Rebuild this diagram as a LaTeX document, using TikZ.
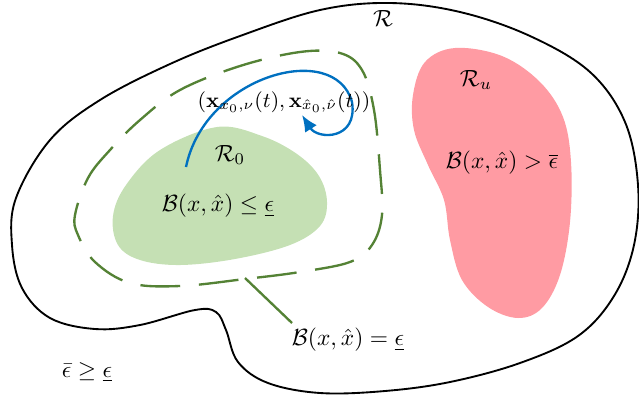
\documentclass[tikz,border=0pt]{standalone}
\usepackage{amsmath}
\usepackage{amssymb}
\usepackage{tikz}
\usetikzlibrary{arrows.meta,positioning,calc}

\definecolor{safegreen}{RGB}{197,224,180}
\definecolor{levelgreen}{RGB}{84,130,53}
\definecolor{unsafered}{RGB}{255,155,163}
\definecolor{trajblue}{RGB}{0,112,192}

\begin{document}
\begin{tikzpicture}[
  x=0.015cm,y=-0.015cm,
  region/.style={draw=black,thick},
  initset/.style={fill=safegreen,draw=none},
  unsafeset/.style={fill=unsafered,draw=none},
  levelset/.style={draw=levelgreen,line width=1pt,dash pattern=on 17pt off 8pt},
  traj/.style={draw=trajblue,line width=1pt,-{Latex[length=7pt,width=6pt]}},
  lbl/.style={inner sep=1pt},
]
\useasboundingbox (0,0) rectangle (639,401);

% state space
\draw[region] plot[smooth cycle,tension=0.6] coordinates {
  (320,393) (268,383) (238,362) (226,330) (216,312) (195,310) (140,325)
  (95,329) (50,318) (22,288) (12,245) (16,198) (50,140) (100,100)
  (170,64) (240,36) (320,10) (390,3) (460,12) (530,36) (590,72)
  (625,122) (638,185) (634,245) (614,296) (578,336) (520,363)
  (450,382) (385,391)};

% unsafe set
\fill[unsafeset] plot[smooth cycle,tension=0.6] coordinates {
  (455,48) (502,56) (540,82) (563,117) (571,162) (570,222) (560,275)
  (542,308) (518,318) (488,307) (462,280) (450,240) (444,200)
  (428,165) (414,130) (413,95) (425,62)};

% initial set
\fill[initset] plot[smooth cycle,tension=0.6] coordinates {
  (217,127) (262,136) (297,154) (319,176) (327,202) (320,226) (290,245)
  (235,259) (180,265) (140,260) (118,245) (113,216) (126,185) (160,150)};

% level set of the barrier
\draw[levelset] plot[smooth cycle,tension=0.6] coordinates {
  (75,215) (88,178) (110,150) (140,120) (180,90) (240,66) (300,52)
  (340,53) (362,70) (374,110) (380,170) (382,215) (372,245) (350,262)
  (300,272) (245,279) (180,286) (130,283) (95,262) (78,235)};

% trajectory
\draw[traj] (186,167) .. controls (205,75) and (335,40) .. (352,102)
  .. controls (358,140) and (318,140) .. (302,115);

% labels
\node[lbl] (R) at (383,18) {$\mathcal{R}$};
\node[lbl] (Ru) at (476,80) {$\mathcal{R}_u$};
\node[lbl] (unsafe) at (502,163) {$\mathcal{B}(x,\hat{x}) > \overline{\epsilon}$};
\node[lbl] (R0) at (230,155) {$\mathcal{R}_0$};
\node[lbl] (init) at (218,206) {$\mathcal{B}(x,\hat{x}) \leq \underline{\epsilon}$};
\node[lbl,font=\small] (trajlbl) at (284,102) {$(\mathbf{x}_{x_0,\nu}(t),\mathbf{x}_{\hat{x}_0,\hat{\nu}}(t))$};
\node[lbl] (level) at (348,340) {$\mathcal{B}(x,\hat{x}) = \underline{\epsilon}$};
\node[lbl] (eps) at (87,372) {$\bar{\epsilon} \geq \underline{\epsilon}$};

\coordinate (onlevel) at (245,278);
\draw[levelgreen,line width=1pt] (onlevel) -- (292,323);

\end{tikzpicture}
\end{document}
